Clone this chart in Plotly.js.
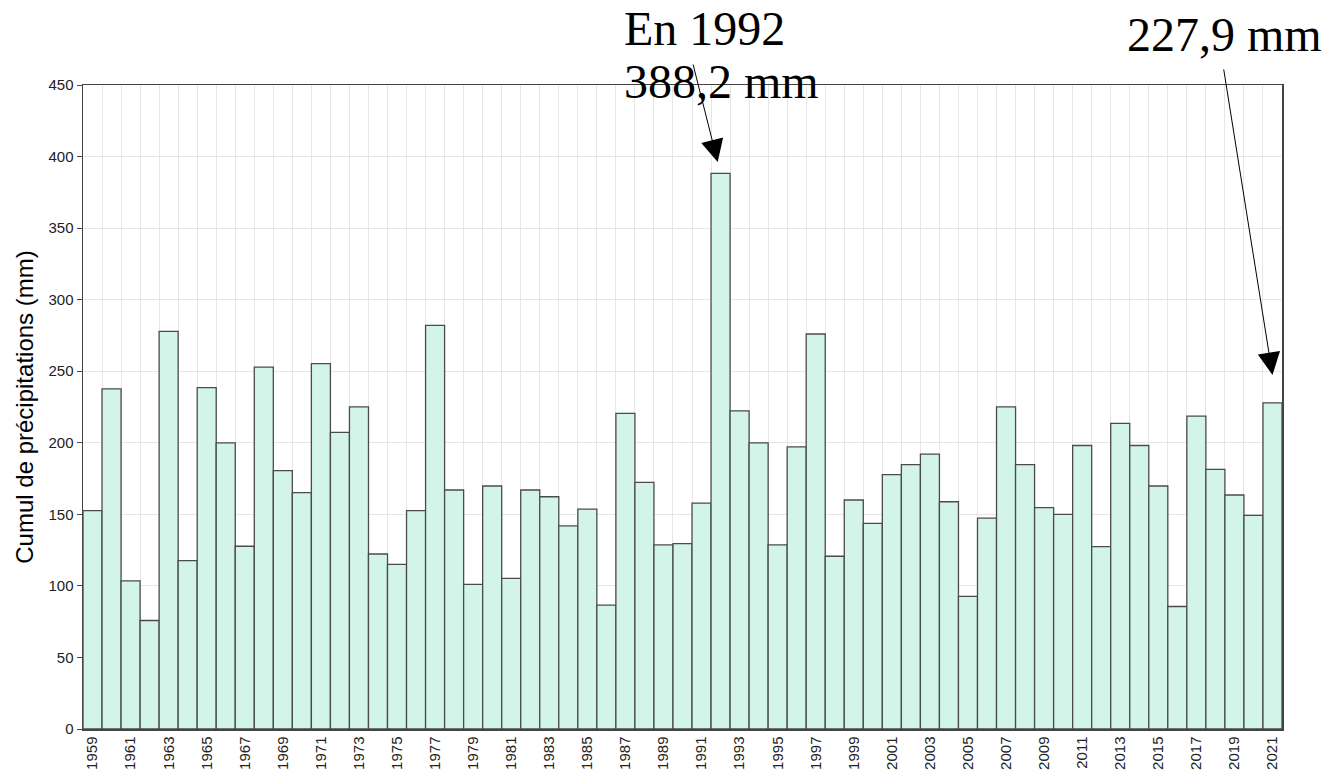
<!DOCTYPE html>
<html>
<head>
<meta charset="utf-8">
<script src="https://cdn.plot.ly/plotly-3.0.1.min.js"></script>
<style>
  html, body { margin: 0; padding: 0; background: #ffffff; }
  #chart { width: 1325px; height: 773px; }
</style>
</head>
<body>
<div id="chart"></div>
<script>
// Years (categories)
const years = [];
for (let y = 1959; y <= 2021; y++) years.push(y);

// Annual precipitation totals (mm)
const precip = [
  152.6, 237.7, 103.5, 75.8, 277.9, 117.7, 238.6, 200.0, 127.7, 252.8,   // 1959-1968
  180.5, 165.1, 255.3, 207.2, 225.1, 122.3, 115.1, 152.6, 282.1, 167.0,  // 1969-1978
  101.0, 169.8, 105.3, 167.0, 162.3, 141.9, 153.7, 86.5, 220.5, 172.3,   // 1979-1988
  128.6, 129.5, 157.9, 388.2, 222.3, 200.0, 128.6, 197.2, 276.0, 120.7,  // 1989-1998
  160.0, 143.7, 177.7, 184.8, 192.1, 158.8, 92.7, 147.3, 225.1, 184.8,   // 1999-2008
  154.7, 150.0, 198.1, 127.4, 213.5, 198.1, 169.8, 85.6, 218.6, 181.4,   // 2009-2018
  163.5, 149.3, 227.9                                                    // 2019-2021
];

// Tick labels (every other year)
const tickYears = years.filter(y => (y - 1959) % 2 === 0);
const tickLabels = tickYears.map(String);

// Annotation texts
const peakYear = 1992;
const lastYear = 2021;
const peakText1 = "En 1992";
const peakText2 = "388,2 mm";
const lastText = "227,9 mm";

const peakVal = precip[years.indexOf(peakYear)];
const lastVal = precip[years.indexOf(lastYear)];

const tickFont = { family: "Liberation Sans, Arial, sans-serif", size: 15, color: "#222222" };
const serif = { family: "Liberation Serif, Times New Roman, serif", size: 48, color: "#000000" };

const trace = {
  type: "bar",
  x: years,
  y: precip,
  width: 1,
  marker: {
    color: "rgb(211,245,233)",
    line: { color: "rgb(75,75,75)", width: 1.3 }
  },
  hoverinfo: "x+y"
};

const layout = {
  width: 1325,
  height: 773,
  margin: { l: 83, r: 43, t: 85, b: 44 },
  paper_bgcolor: "#ffffff",
  plot_bgcolor: "#ffffff",
  showlegend: false,
  bargap: 0,
  xaxis: {
    type: "linear",
    range: [1958.5, 2021.5],
    tickmode: "array",
    tickvals: tickYears,
    ticktext: tickLabels,
    tickangle: -90,
    tickfont: tickFont,
    ticks: "",
    showgrid: false,
    minor: { tick0: 1958.5, dtick: 1, showgrid: true, gridcolor: "#e6e6e6", gridwidth: 1, ticks: "" },
    showline: true,
    linecolor: "#444444",
    linewidth: 1.5,
    mirror: true,
    zeroline: false,
    automargin: false,
    fixedrange: true
  },
  yaxis: {
    range: [0, 450],
    tickmode: "linear",
    tick0: 0,
    dtick: 50,
    tickfont: tickFont,
    ticks: "outside",
    ticklen: 5,
    tickcolor: "#444444",
    showgrid: true,
    gridcolor: "#e6e6e6",
    gridwidth: 1,
    showline: true,
    linecolor: "#444444",
    linewidth: 1.5,
    mirror: true,
    zeroline: false,
    automargin: false,
    fixedrange: true,
    title: {
      text: "Cumul de précipitations (mm)",
      font: { family: "Liberation Sans, Arial, sans-serif", size: 24, color: "#000000" },
      standoff: 8
    }
  },
  annotations: [
    {
      xref: "paper", yref: "paper",
      x: 0.4517, y: 1.087, xanchor: "left", yanchor: "middle", xshift: -3,
      text: peakText1, showarrow: false, font: serif
    },
    {
      xref: "paper", yref: "paper",
      x: 0.4517, y: 1.006, xanchor: "left", yanchor: "middle", xshift: -3,
      text: peakText2, showarrow: false, font: serif
    },
    {
      xref: "paper", yref: "paper",
      x: 0.8708, y: 1.079, xanchor: "left", yanchor: "middle", xshift: -2,
      text: lastText, showarrow: false, font: serif
    },
    {
      xref: "x", yref: "y",
      x: peakYear - 0.15, y: peakVal + 8,
      ax: -25, ay: -99, axref: "pixel", ayref: "pixel",
      text: "", showarrow: true,
      arrowhead: 2, arrowsize: 4.5, arrowwidth: 1, arrowcolor: "#000000",
      font: { size: 1 }
    },
    {
      xref: "x", yref: "y",
      x: lastYear, y: lastVal + 19.5,
      ax: -49, ay: -307, axref: "pixel", ayref: "pixel",
      text: "", showarrow: true,
      arrowhead: 2, arrowsize: 4.5, arrowwidth: 1, arrowcolor: "#000000",
      font: { size: 1 }
    }
  ]
};

Plotly.newPlot("chart", [trace], layout, { displayModeBar: false, staticPlot: true });
</script>
</body>
</html>
